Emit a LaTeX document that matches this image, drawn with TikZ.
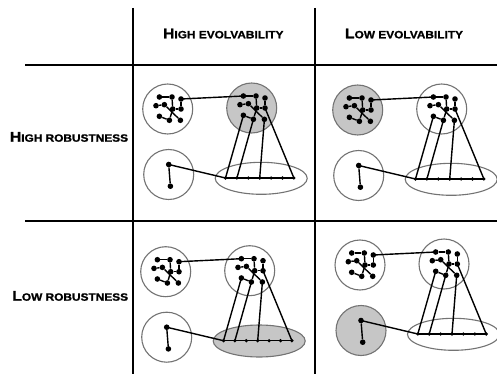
\documentclass[tikz,border=0pt]{standalone}
\usepackage{fontspec}
\newfontfamily\lblfont[FakeStretch=1.12,FakeBold=1.2]{Liberation Sans}
\usetikzlibrary{shapes.geometric}

% bold small caps built from two sizes
\newcommand\fakesc[2]{{\fontsize{14}{15}\selectfont #1}{\fontsize{10.6}{12}\selectfont #2}}

\colorlet{shade}{gray!45}

\tikzset{
  rule/.style={line width=1.8pt, black},
  blob/.style={circle, draw=black!55, line width=1.1pt, minimum size=50pt, inner sep=0pt},
  pool/.style={ellipse, draw=black!55, line width=1.1pt, minimum width=92pt, minimum height=32pt, inner sep=0pt},
  dot/.style={circle, fill=black, minimum size=5.6pt, inner sep=0pt},
  tick/.style={circle, fill=black, minimum size=3.6pt, inner sep=0pt},
  wire/.style={line width=1.4pt, black},
  hdr/.style={font=\lblfont\bfseries, inner sep=0pt},
}

% a small interaction network centred at (#2,#3), node names prefixed with #1
\newcommand\netmotif[3]{%
  \begin{scope}[shift={(#2,#3)}]
    \foreach \k/\dx/\dy in {1/-8.3/-12, 2/4.3/-12, 3/13.3/-10, 4/-11.7/-3.3,
        5/-3.3/-4.3, 6/5/0, 7/13.3/0, 8/-8.3/7.3, 9/1.7/11.3, 10/12.7/11.3}
      \node[dot] (#1\k) at (\dx,\dy) {};
    \foreach \a/\b in {1/2,2/6,6/7,3/7,4/5,5/10,8/9,6/9}
      \draw[wire] (#1\a) -- (#1\b);
  \end{scope}%
}

% one panel: #1 prefix, (#2,#3) centre of the upper-left circle,
% #4..#7 fills of upper-left circle, upper-right circle, lower circle, ellipse
\newcommand\gpcell[7]{%
  \begin{scope}[shift={(#2,#3)}]
    \node[blob, fill=#4] (#1G) at (0,0) {};
    \node[blob, fill=#5] (#1N) at (84,-1) {};
    \node[blob, fill=#6] (#1B) at (1,65.5) {};
    \node[pool, fill=#7] (#1E) at (93.5,69.3) {};
    \netmotif{#1g}{0}{0}
    \netmotif{#1n}{84}{-1}
    \node[dot] (#1b1) at (1,55.5) {};
    \node[dot] (#1b2) at (2.7,77.2) {};
    \foreach \k in {1,...,7}
      \node[tick] (#1e\k) at ({57.8+11.4*(\k-1)},69) {};
    \draw[wire] (#1e1.center) -- (#1e7.center);
    \draw[wire] (#1b1) -- (#1b2);
    \draw[wire] (#1b1.center) -- (#1e1.center);
    \draw[wire] (#1g3.center) -- (#1n1.center);
    \draw[wire] (#1n8.center) -- (#1e1.center);
    \draw[wire] (#1n9.center) -- (#1e2.center);
    \draw[wire] (#1n10.center) -- (#1e4.center);
    \draw[wire] (#1n7.center) -- (#1e7.center);
  \end{scope}%
}

\begin{document}
\begin{tikzpicture}[x=1pt, y=-1pt]
  \useasboundingbox (0,0) rectangle (497,374);

  % table rules
  \coordinate (v1t) at (133,8);   \coordinate (v1b) at (133,374);
  \coordinate (v2t) at (315,8);   \coordinate (v2b) at (315,374);
  \coordinate (h1l) at (25,65);   \coordinate (h1r) at (497,65);
  \coordinate (h2l) at (25,221);  \coordinate (h2r) at (497,221);
  \draw[rule] (v1t) -- (v1b);
  \draw[rule] (v2t) -- (v2b);
  \draw[rule] (h1l) -- (h1r);
  \draw[rule] (h2l) -- (h2r);

  % headings
  \node[hdr, anchor=base] (colA) at (223.3,38.3) {\fakesc{H}{IGH EVOLVABILITY}};
  \node[hdr, anchor=base] (colB) at (404,38.3) {\fakesc{L}{OW EVOLVABILITY}};
  \node[hdr, anchor=base east] (rowA) at (128.3,141.7) {\fakesc{H}{IGH ROBUSTNESS}};
  \node[hdr, anchor=base east] (rowB) at (128.3,300.7) {\fakesc{L}{OW ROBUSTNESS}};

  % panels
  \gpcell{p}{167.7}{109}{white}{shade}{white}{white}
  \gpcell{q}{357.7}{110}{shade}{white}{white}{white}
  \gpcell{r}{165.7}{271.7}{white}{white}{white}{shade}
  \gpcell{s}{360}{265}{white}{white}{shade}{white}
\end{tikzpicture}
\end{document}
